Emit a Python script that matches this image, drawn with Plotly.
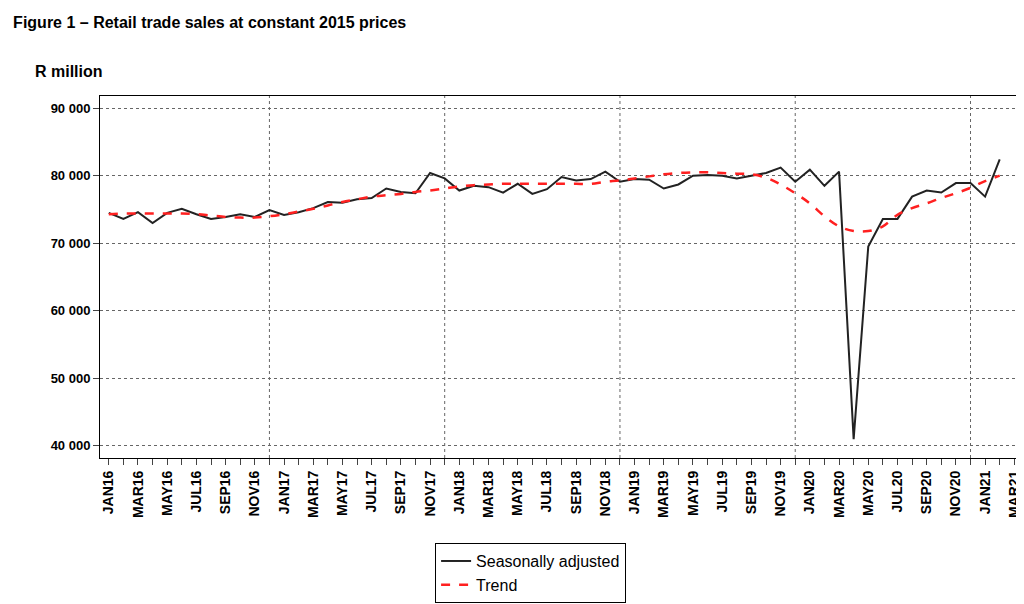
import plotly.graph_objects as go

MONTHS = ["JAN", "FEB", "MAR", "APR", "MAY", "JUN", "JUL", "AUG", "SEP", "OCT", "NOV", "DEC"]
month_labels = [f"{m}{y}" for y in range(16, 22) for m in MONTHS][:63]  # JAN16..MAR21

# R million, JAN16..FEB21
seasonally_adjusted = [
    74.5, 73.6, 74.6, 73.0, 74.5, 75.1, 74.3, 73.6, 73.9, 74.3, 73.9, 74.9,
    74.2, 74.6, 75.2, 76.1, 76.0, 76.5, 76.7, 78.1, 77.6, 77.4, 80.4, 79.6,
    77.8, 78.5, 78.3, 77.5, 78.8, 77.3, 78.0, 79.8, 79.3, 79.5, 80.6, 79.1,
    79.5, 79.4, 78.1, 78.7, 80.0, 80.1, 80.0, 79.6, 80.0, 80.4, 81.2, 79.1,
    80.9, 78.5, 80.6, 41.0, 69.5, 73.6, 73.6, 76.9, 77.8, 77.5, 78.9, 78.9,
    76.9, 82.4,
]
trend = [
    74.3, 74.4, 74.4, 74.4, 74.4, 74.4, 74.3, 74.1, 73.9, 73.8, 73.8, 74.0,
    74.3, 74.7, 75.1, 75.6, 76.1, 76.5, 76.9, 77.1, 77.3, 77.6, 77.8, 78.1,
    78.4, 78.6, 78.7, 78.8, 78.8, 78.8, 78.8, 78.8, 78.8, 78.8, 79.1, 79.3,
    79.6, 79.9, 80.2, 80.4, 80.5, 80.5, 80.4, 80.3, 80.2, 79.7, 78.7, 77.4,
    75.9, 74.0, 72.5, 71.8, 71.8, 72.5, 74.2, 75.2, 75.9, 76.7, 77.4, 78.2,
    79.2, 80.0,
]
y_ticks = [40000, 50000, 60000, 70000, 80000, 90000]

x = list(range(len(seasonally_adjusted)))
font = "Liberation Sans, Arial, sans-serif"

fig = go.Figure()
fig.add_trace(go.Scatter(x=x, y=[v * 1000 for v in seasonally_adjusted], mode="lines",
                         name="Seasonally adjusted", line=dict(color="#222222", width=2)))
fig.add_trace(go.Scatter(x=x, y=[v * 1000 for v in trend], mode="lines", name="Trend",
                         line=dict(color="#ff2020", width=2.5, dash="dash", shape="spline")))

# vertical dotted grid at each December
for i in range(11, len(month_labels), 12):
    fig.add_vline(x=i, line=dict(color="#666666", width=1, dash="dot"), layer="below")

fig.update_layout(
    width=1024, height=604,
    margin=dict(l=92, r=6, t=88, b=154),
    plot_bgcolor="white", paper_bgcolor="white",
    font=dict(family=font, size=12, color="black"),
    title=dict(text="<b>Figure 1 – Retail trade sales at constant 2015 prices</b>",
               x=0.005, xanchor="left", y=0.985, yanchor="top", font=dict(size=16)),
    annotations=[dict(text="<b>R million</b>", xref="paper", yref="paper", x=-0.072, y=1.04,
                      xanchor="left", yanchor="bottom", showarrow=False, font=dict(size=16))],
    showlegend=True,
    legend=dict(x=0.465, y=-0.235, xanchor="center", yanchor="top", bordercolor="black",
                borderwidth=1, font=dict(size=16), tracegroupgap=0),
    xaxis=dict(range=[-0.6, 62.8], tickmode="array", tickvals=list(range(len(month_labels))),
               ticktext=[f"<b>{l}</b>" if k % 2 == 0 else "" for k, l in enumerate(month_labels)],
               tickangle=-90, ticks="outside", ticklen=6, showgrid=False, zeroline=False,
               showline=True, linecolor="black", mirror=True, tickfont=dict(size=14),
               automargin=False),
    yaxis=dict(range=[38200, 91800], tickmode="array", tickvals=y_ticks,
               ticktext=[f"<b>{v // 1000} 000</b>" for v in y_ticks],
               ticks="outside", ticklen=6, showgrid=True, gridcolor="#666666", griddash="dot",
               zeroline=False, showline=True, linecolor="black", mirror=True,
               tickfont=dict(size=13), automargin=False),
)

fig.write_html("out.html")
